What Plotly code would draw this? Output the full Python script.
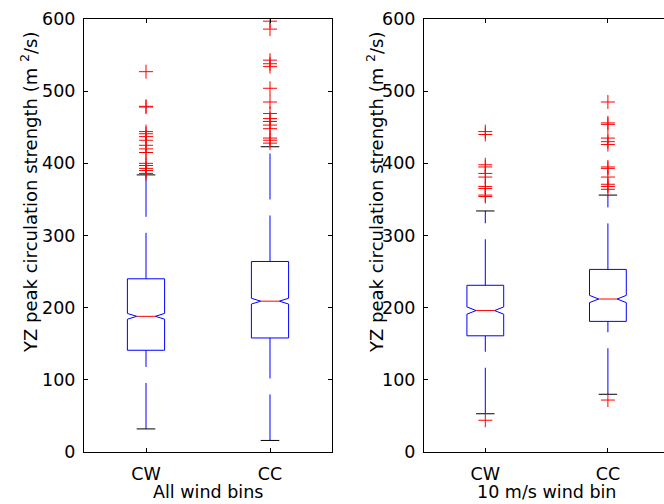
import plotly.graph_objects as go

# ---------------- data ----------------
groups = ["CW", "CC"]
positions = [1, 2]

# Panel 1: All wind bins
all_q1 = [141, 158]
all_med = [188, 209]
all_q3 = [240, 264]
all_lo = [32, 16]
all_hi = [384, 423]
all_notch = [4, 4]
all_out = [
    [527, 479, 478, 444, 441, 437, 432, 425, 420, 415, 400, 397, 393, 390, 386],
    [597, 586, 543, 538, 534, 504, 485, 469, 462, 458, 453, 448, 435, 432, 428],
]

# Panel 2: 10 m/s wind bin
ten_q1 = [161, 181]
ten_med = [196, 212]
ten_q3 = [231, 253]
ten_lo = [53, 80]
ten_hi = [334, 356]
ten_notch = [5, 5]
ten_out = [
    [444, 440, 398, 395, 386, 381, 368, 365, 356, 354, 44],
    [485, 456, 454, 435, 430, 426, 395, 393, 381, 371, 368, 364, 72],
]

yticks = [0, 100, 200, 300, 400, 500, 600]
ylabel = "YZ peak circulation strength (m <sup>2</sup>/s)"
xtitles = ["All wind bins", "10 m/s wind bin"]

BOXW = 0.3
BLUE = "#0000ff"
RED = "#ff0000"
FONT = "DejaVu Sans"
FS = 17.5

fig = go.Figure()


def add_panel(q1, med, q3, lo, hi, notch, outs, xa, ya):
    for p, a, m, b, l, h, n, o in zip(positions, q1, med, q3, lo, hi, notch, outs):
        w = BOXW
        # notched box outline
        bx = [p - w/2, p + w/2, p + w/2, p + w/4, p + w/2, p + w/2,
              p - w/2, p - w/2, p - w/4, p - w/2, p - w/2]
        by = [a, a, m - n, m, m + n, b, b, m + n, m, m - n, a]
        fig.add_trace(go.Scatter(x=bx, y=by, mode="lines", xaxis=xa, yaxis=ya,
                                 line=dict(color=BLUE, width=1), hoverinfo="skip",
                                 showlegend=False))
        # median
        fig.add_trace(go.Scatter(x=[p - w/4, p + w/4], y=[m, m], mode="lines",
                                 xaxis=xa, yaxis=ya, line=dict(color=RED, width=1),
                                 showlegend=False))
        # whiskers (drawn from low value to high value)
        for y0, y1 in ((l, a), (b, h)):
            fig.add_trace(go.Scatter(x=[p, p], y=[y0, y1], mode="lines",
                                     xaxis=xa, yaxis=ya,
                                     line=dict(color=BLUE, width=1, dash="46px,16px"),
                                     showlegend=False))
        # caps
        for yc in (l, h):
            fig.add_trace(go.Scatter(x=[p - w/4, p + w/4], y=[yc, yc], mode="lines",
                                     xaxis=xa, yaxis=ya,
                                     line=dict(color="black", width=1),
                                     showlegend=False))
        # outliers
        fig.add_trace(go.Scatter(x=[p] * len(o), y=o, mode="markers",
                                 xaxis=xa, yaxis=ya,
                                 marker=dict(symbol="cross-thin", size=10,
                                             line=dict(color=RED, width=1)),
                                 showlegend=False))


add_panel(all_q1, all_med, all_q3, all_lo, all_hi, all_notch, all_out, "x", "y")
add_panel(ten_q1, ten_med, ten_q3, ten_lo, ten_hi, ten_notch, ten_out, "x2", "y2")

W, H = 664, 504
px_per_unit2 = 122.6
x2_left = 424

axis_common = dict(showline=True, linecolor="black", linewidth=1, ticks="inside",
                   ticklen=4, tickcolor="black", showgrid=False, zeroline=False,
                   automargin=False,
                   tickfont=dict(family=FONT, size=FS, color="black"))

fig.update_layout(
    width=W, height=H,
    margin=dict(l=0, r=0, t=0, b=0, autoexpand=False),
    paper_bgcolor="white", plot_bgcolor="white",
    font=dict(family=FONT, size=FS, color="black"),
    xaxis=dict(domain=[84 / W, 332 / W], range=[0.5, 2.5], tickvals=positions,
               ticktext=groups, mirror="ticks", anchor="y", ticklabelstandoff=6,
               **axis_common),
    yaxis=dict(domain=[(H - 452) / H, (H - 19) / H], range=[0, 600], tickvals=yticks,
               mirror="ticks", anchor="x", ticklabelstandoff=4, **axis_common),
    xaxis2=dict(domain=[x2_left / W, 1], range=[0.5, 0.5 + (W - x2_left) / px_per_unit2],
                tickvals=positions, ticktext=groups, mirror="ticks", anchor="y2",
                ticklabelstandoff=6, **axis_common),
    yaxis2=dict(domain=[(H - 452) / H, (H - 19) / H], range=[0, 600], tickvals=yticks,
                mirror=False, anchor="x2", ticklabelstandoff=4, **axis_common),
)

# axis titles
for xpos in (29, 375):
    fig.add_annotation(text=ylabel, x=xpos / W, y=(H - 193) / H, xref="paper",
                       yref="paper", textangle=-90, showarrow=False,
                       xanchor="center", yanchor="middle",
                       font=dict(family=FONT, size=18))
for txt, xpos in zip(xtitles, (208, 546)):
    fig.add_annotation(text=txt, x=xpos / W, y=(H - 492) / H, xref="paper",
                       yref="paper", showarrow=False, xanchor="center",
                       yanchor="middle", font=dict(family=FONT, size=FS))

fig.write_html("out.html",
               config={"displayModeBar": False},
               post_script="document.body.style.margin='0';"
                           "document.body.style.overflow='hidden';")
